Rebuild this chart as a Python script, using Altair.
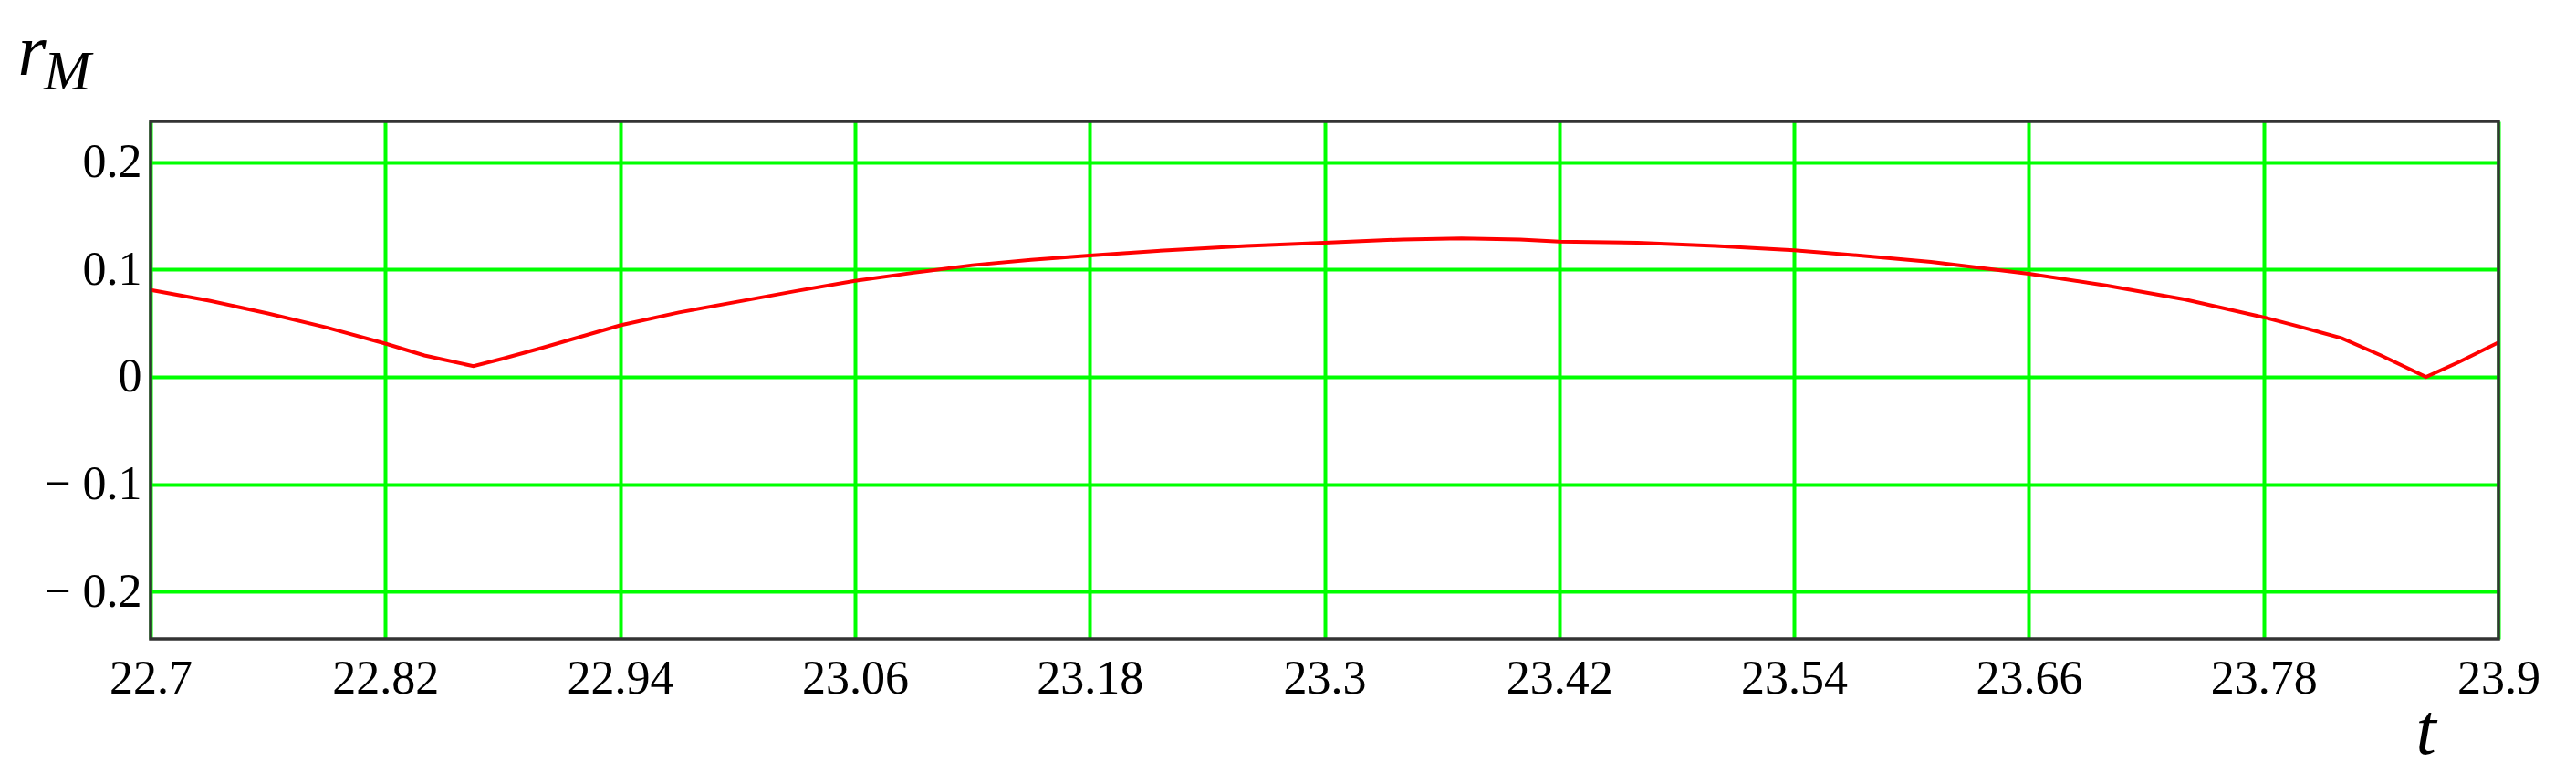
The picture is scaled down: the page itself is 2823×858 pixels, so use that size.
import altair as alt
import pandas as pd

# data
t_vals = [22.70, 22.73, 22.76, 22.79, 22.82, 22.84, 22.865, 22.88, 22.90, 22.94,
          22.97, 23.00, 23.03, 23.06, 23.09, 23.12, 23.15, 23.18, 23.22, 23.26,
          23.30, 23.34, 23.37, 23.40, 23.42, 23.46, 23.50, 23.54, 23.58, 23.61,
          23.66, 23.70, 23.74, 23.78, 23.80, 23.82, 23.84, 23.863, 23.88, 23.90]
r_vals = [0.081, 0.071, 0.059, 0.046, 0.031, 0.020, 0.010, 0.017, 0.027, 0.048,
          0.060, 0.070, 0.080, 0.0895, 0.097, 0.104, 0.109, 0.113, 0.118, 0.122,
          0.125, 0.128, 0.129, 0.128, 0.126, 0.125, 0.122, 0.118, 0.112, 0.107,
          0.096, 0.085, 0.072, 0.0555, 0.046, 0.036, 0.020, 0.0, 0.014, 0.032]
x_ticks = [22.7, 22.82, 22.94, 23.06, 23.18, 23.3, 23.42, 23.54, 23.66, 23.78, 23.9]
y_ticks = [-0.2, -0.1, 0.0, 0.1, 0.2]
y_title = "r"
y_subscript = "M"
x_title = "t"

df = pd.DataFrame({"t": t_vals, "r": r_vals})
sub_df = pd.DataFrame({"s": [y_subscript]})
frame_df = pd.DataFrame({"k": [1]})

FONT = "Liberation Serif"
W, H = 2573, 567

line = alt.Chart(df).mark_line(color="#ff0000", strokeWidth=4).encode(
    x=alt.X("t:Q",
            scale=alt.Scale(domain=[22.7, 23.9], nice=False, zero=False),
            axis=alt.Axis(values=x_ticks, labelExpr="'' + datum.value",
                          grid=True, gridColor="#00ff00",
                          gridWidth=4, gridOpacity=1, ticks=False, domain=False,
                          labelFont=FONT, labelFontSize=52, labelColor="#000000",
                          labelPadding=18, labelFlush=False, labelOverlap=False,
                          title=x_title, titleFont=FONT, titleFontStyle="italic",
                          titleFontWeight="normal", titleFontSize=80, titleColor="#000000",
                          titleX=2482, titleY=142, titleAlign="left",
                          titleBaseline="bottom")),
    y=alt.Y("r:Q",
            scale=alt.Scale(domain=[-0.244, 0.238], nice=False, zero=False),
            axis=alt.Axis(values=y_ticks, grid=True, gridColor="#00ff00",
                          gridWidth=4, gridOpacity=1, ticks=False, domain=False,
                          labelExpr="datum.value == 0 ? '0' : (datum.value < 0 ? '\u2212 ' + format(-datum.value, '.1f') : format(datum.value, '.1f'))",
                          labelFont=FONT, labelFontSize=52, labelColor="#000000",
                          labelPadding=10, labelOverlap=False, labelBaseline="middle",
                          title=y_title, titleFont=FONT, titleFontStyle="italic",
                          titleFontWeight="normal", titleFontSize=80, titleColor="#000000",
                          titleAngle=0, titleX=-146, titleY=-52, titleAlign="left",
                          titleBaseline="alphabetic")),
)

sub = alt.Chart(sub_df).mark_text(
    font=FONT, fontStyle="italic", fontSize=62, color="#000000",
    align="left", baseline="alphabetic"
).encode(x=alt.value(-117), y=alt.value(-35), text="s:N")

frame = alt.Chart(frame_df).mark_rect(
    filled=False, stroke="#333333", strokeWidth=3.5
).encode(x=alt.value(0), x2=alt.value(W), y=alt.value(0), y2=alt.value(H))

chart = alt.layer(line, frame, sub).properties(
    width=W, height=H,
    autosize=alt.AutoSizeParams(type="none"),
    padding={"left": 157, "top": 125, "right": 77, "bottom": 150},
).configure_view(strokeWidth=0).configure(background="white")

chart.save("out.html", embed_options={"renderer": "svg", "actions": False})
